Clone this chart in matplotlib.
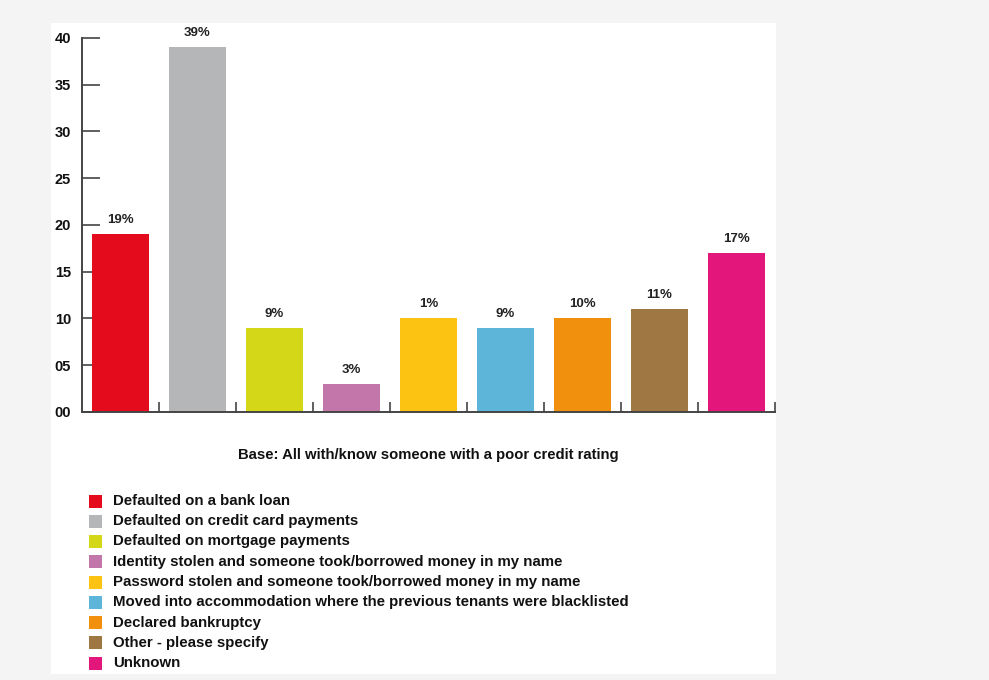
import matplotlib
matplotlib.use("Agg")
import matplotlib.pyplot as plt
from matplotlib.patches import Rectangle
from matplotlib.ticker import FixedLocator, FixedFormatter

categories = [
    "Defaulted on a bank loan",
    "Defaulted on credit card payments",
    "Defaulted on mortgage payments",
    "Identity stolen and someone took/borrowed money in my name",
    "Password stolen and someone took/borrowed money in my name",
    "Moved into accommodation where the previous tenants were blacklisted",
    "Declared bankruptcy",
    "Other - please specify",
    "Unknown",
]
values = [19, 39, 9, 3, 10, 9, 10, 11, 17]
value_labels = ["19%", "39%", "9%", "3%", "1%", "9%", "10%", "11%", "17%"]
colors = ["#e30b1c", "#b5b6b8", "#d4d718", "#c376aa", "#fcc313",
          "#5db5d9", "#f0900c", "#9e7743", "#e2167b"]
y_ticks = [0, 5, 10, 15, 20, 25, 30, 35, 40]
y_tick_labels = ["00", "05", "10", "15", "20", "25", "30", "35", "40"]
base_note = "Base: All with/know someone with a poor credit rating"

plt.rcParams["font.family"] = ["Liberation Sans", "DejaVu Sans"]

W, H = 989, 680
fig = plt.figure(figsize=(W / 100, H / 100), dpi=100)
fig.patch.set_facecolor("#f4f4f4")

# white card behind the chart
card = Rectangle((51 / W, 1 - 674 / H), (776 - 51) / W, (674 - 23) / H,
                 transform=fig.transFigure, facecolor="white",
                 edgecolor="none", zorder=-5)
fig.add_artist(card)

ax_l, ax_r, ax_b, ax_t = 82, 775, 412, 38
ax = fig.add_axes([ax_l / W, 1 - ax_b / H, (ax_r - ax_l) / W, (ax_b - ax_t) / H])
ax.set_facecolor("none")
ax.set_zorder(5)

x = list(range(len(values)))
ax.bar(x, values, width=0.74, color=colors, edgecolor="none", zorder=2)
for xi, v, lab in zip(x, values, value_labels):
    ax.annotate(lab, (xi, v), xytext=(0, 6), textcoords="offset points",
                ha="center", va="bottom", fontsize=9.5, fontweight="bold",
                color="#222222", annotation_clip=False)

ax.set_xlim(-0.5, len(values) - 0.5)
ax.set_ylim(0, 40)

axis_col = "#444444"
for s in ["top", "right"]:
    ax.spines[s].set_visible(False)
for s in ["left", "bottom"]:
    ax.spines[s].set_color(axis_col)
    ax.spines[s].set_linewidth(1.4)

ax.yaxis.set_major_locator(FixedLocator(y_ticks))
ax.yaxis.set_major_formatter(FixedFormatter(y_tick_labels))
ax.tick_params(axis="y", direction="in", length=13, width=1.2, color=axis_col,
               pad=8, labelsize=10.5, labelcolor="#111111")
for t in ax.get_yticklabels():
    t.set_fontweight("bold")

ax.xaxis.set_major_locator(FixedLocator([i + 0.5 for i in range(len(values))]))
ax.xaxis.set_major_formatter(FixedFormatter([""] * len(values)))
ax.tick_params(axis="x", direction="in", length=7.5, width=1.2, color=axis_col)

fig.text(428 / W, 1 - 455 / H, base_note, ha="center", va="center",
         fontsize=10.7, fontweight="bold", color="#111111")

# legend rows
row0, step = 501, 20.25
for i, (cat, col) in enumerate(zip(categories, colors)):
    yc = row0 + i * step
    fig.add_artist(Rectangle((89 / W, 1 - (yc + 6.5) / H), 13 / W, 13 / H,
                             transform=fig.transFigure, facecolor=col,
                             edgecolor="none"))
    fig.text(113 / W, 1 - yc / H, cat, ha="left", va="center",
             fontsize=10.8, fontweight="bold", color="#111111")

fig.savefig("out.png", dpi=100, facecolor=fig.get_facecolor())
